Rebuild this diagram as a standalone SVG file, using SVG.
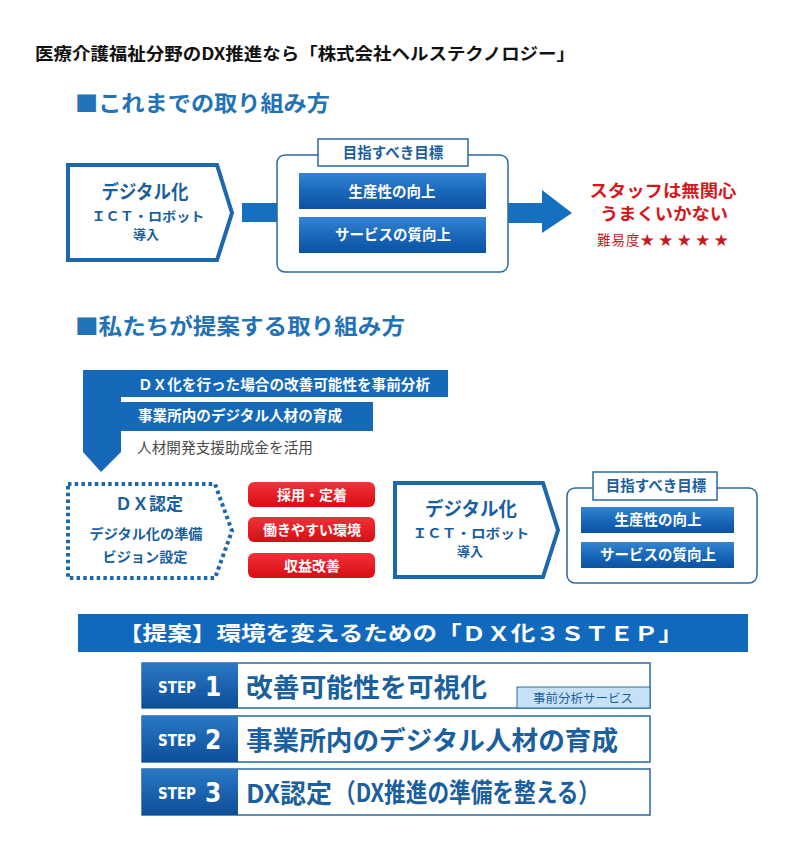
<svg xmlns="http://www.w3.org/2000/svg" width="794" height="863" viewBox="0 0 794 863">
<defs>
<linearGradient id="gBlue" x1="0" y1="0" x2="0" y2="1">
<stop offset="0" stop-color="#3585d2"/><stop offset="0.5" stop-color="#1a68bb"/><stop offset="1" stop-color="#0b52a2"/>
</linearGradient>
<linearGradient id="gRed" x1="0" y1="0" x2="0" y2="1">
<stop offset="0" stop-color="#f0323a"/><stop offset="1" stop-color="#d80c14"/>
</linearGradient>
<linearGradient id="gStep" x1="0" y1="0" x2="0" y2="1">
<stop offset="0" stop-color="#2a78c4"/><stop offset="1" stop-color="#0c4e98"/>
</linearGradient>
<style>
text{font-family:"Noto Sans CJK JP","Noto Sans",sans-serif;}
.b{font-weight:bold;}
.hdr{font-size:22px;font-weight:bold;fill:#2272b8;}
.pt{fill:#1b5f9e;font-weight:bold;text-anchor:middle;}
.w{fill:#fff;font-weight:bold;text-anchor:middle;}
.pent{fill:#fff;stroke:#1c68ab;stroke-width:4;}
.box{fill:#fff;stroke:#2a6aa0;stroke-width:1.5;}
.lbl{fill:#fff;stroke:#2a6aa0;stroke-width:1.5;}
.lt{fill:#1b5f9e;font-weight:bold;text-anchor:middle;font-size:14.5px;}
.red{fill:#d51820;font-weight:bold;text-anchor:middle;font-size:17px;}
.sw{fill:#fff;stroke:#2a6aa0;stroke-width:1.5;}
.st{fill:#1b5f9e;font-weight:bold;font-size:26px;}
.sl{fill:#fff;font-weight:bold;font-family:"Liberation Sans Narrow","DejaVu Sans Condensed","Liberation Sans",sans-serif;}
</style>
</defs>
<rect width="794" height="863" fill="#fff"/>

<g id="title"><text x="35" y="60" font-size="17" class="b" fill="#111" textLength="540" lengthAdjust="spacingAndGlyphs">医療介護福祉分野のDX推進なら「株式会社ヘルステクノロジー」</text></g>

<g id="header1"><text x="75" y="111" class="hdr" textLength="255" lengthAdjust="spacingAndGlyphs">■これまでの取り組み方</text></g>

<g id="connectors">
<rect x="242" y="203" width="36" height="19" fill="#1570c0"/>
<polygon points="508,203 542,203 542,190 572,213 542,233 542,223 508,223" fill="#1570c0"/>
</g>

<g id="digital1">
<polygon class="pent" points="68,165 217,165 232,213 217,260 68,260"/>
<text x="145" y="199" class="pt" font-size="19" textLength="87" lengthAdjust="spacingAndGlyphs">デジタル化</text>
<text x="148" y="221" class="pt" font-size="13" textLength="113" lengthAdjust="spacingAndGlyphs">ＩＣＴ・ロボット</text>
<text x="146" y="239" class="pt" font-size="13">導入</text>
</g>

<g id="goal1">
<rect class="box" x="277" y="155" width="231" height="117" rx="8"/>
<rect class="lbl" x="318" y="139" width="150" height="27"/>
<text x="393" y="158" class="lt">目指すべき目標</text>
<rect x="299" y="173" width="187" height="36" fill="url(#gBlue)"/>
<text x="392" y="197" class="w" font-size="14.5">生産性の向上</text>
<rect x="299" y="217" width="187" height="36" fill="url(#gBlue)"/>
<text x="393" y="240" class="w" font-size="14.5">サービスの質向上</text>
</g>

<g id="result1">
<text x="663" y="197" class="red" textLength="147" lengthAdjust="spacingAndGlyphs">スタッフは無関心</text>
<text x="664" y="220" class="red" textLength="128" lengthAdjust="spacingAndGlyphs">うまくいかない</text>
<text x="597" y="245" font-size="13.5" fill="#c8171e" textLength="131" lengthAdjust="spacing">難易度★ ★ ★ ★ ★</text>
</g>

<g id="header2"><text x="75" y="334" class="hdr" textLength="330" lengthAdjust="spacingAndGlyphs">■私たちが提案する取り組み方</text></g>

<g id="process">
<polygon points="83,370 448,370 448,397 121,397 121,402 373,402 373,431 121,431 121,452 101,472 83,452" fill="#1569b8"/>
<line x1="121" y1="399.5" x2="448" y2="399.5" stroke="#fff" stroke-width="4"/>
<text x="138" y="390" class="b" fill="#fff" font-size="14.5" textLength="292" lengthAdjust="spacingAndGlyphs">ＤＸ化を行った場合の改善可能性を事前分析</text>
<text x="138" y="421" class="b" fill="#fff" font-size="14.5" textLength="204" lengthAdjust="spacingAndGlyphs">事業所内のデジタル人材の育成</text>
<text x="137" y="453" fill="#4a4a4a" font-size="14.5" textLength="176" lengthAdjust="spacingAndGlyphs">人材開発支援助成金を活用</text>
</g>

<g id="dxcert">
<polygon points="68,484 215,484 232,531 215,578 68,578" fill="#fff" stroke="#1c68ab" stroke-width="4" stroke-dasharray="3.5 3.2"/>
<text x="149" y="510" class="pt" font-size="17" textLength="68" lengthAdjust="spacingAndGlyphs">ＤＸ認定</text>
<text x="146" y="539" class="pt" font-size="14" textLength="113" lengthAdjust="spacingAndGlyphs">デジタル化の準備</text>
<text x="145" y="562" class="pt" font-size="14" textLength="85" lengthAdjust="spacingAndGlyphs">ビジョン設定</text>
</g>

<g id="benefits">
<rect x="248" y="482" width="127" height="25" rx="6" fill="url(#gRed)"/>
<text x="312" y="500" class="w" font-size="14">採用・定着</text>
<rect x="248" y="517" width="127" height="25" rx="6" fill="url(#gRed)"/>
<text x="312" y="535" class="w" font-size="14">働きやすい環境</text>
<rect x="248" y="553" width="127" height="25" rx="6" fill="url(#gRed)"/>
<text x="312" y="571" class="w" font-size="14">収益改善</text>
</g>

<g id="digital2">
<polygon class="pent" points="395,483 543,483 558,530 543,577 395,577"/>
<text x="471" y="516" class="pt" font-size="19" textLength="92" lengthAdjust="spacingAndGlyphs">デジタル化</text>
<text x="471" y="538" class="pt" font-size="13" textLength="117" lengthAdjust="spacingAndGlyphs">ＩＣＴ・ロボット</text>
<text x="470" y="556" class="pt" font-size="13">導入</text>
</g>

<g id="goal2">
<rect class="box" x="567" y="488" width="190" height="95" rx="8"/>
<rect class="lbl" x="593" y="472" width="124" height="28"/>
<text x="656" y="491" class="lt">目指すべき目標</text>
<rect x="581" y="507" width="153" height="26" fill="url(#gBlue)"/>
<text x="658" y="525" class="w" font-size="14.5">生産性の向上</text>
<rect x="581" y="542" width="153" height="26" fill="url(#gBlue)"/>
<text x="658" y="560" class="w" font-size="14.5">サービスの質向上</text>
</g>

<g id="banner">
<rect x="78" y="614" width="670" height="38" fill="#1069bd"/>
<text x="118" y="641" class="b" fill="#fff" font-size="20" textLength="565" lengthAdjust="spacingAndGlyphs">【提案】環境を変えるための「ＤＸ化３ＳＴＥＰ」</text>
</g>

<g id="step1">
<rect class="sw" x="142" y="663" width="508" height="45"/>
<rect x="142" y="663" width="96" height="45" fill="url(#gStep)"/>
<text x="158" y="693" class="sl" font-size="15" textLength="38" lengthAdjust="spacingAndGlyphs">STEP</text>
<text x="205" y="696" class="sl" font-size="26">1</text>
<text x="246" y="697" class="st" textLength="241" lengthAdjust="spacingAndGlyphs">改善可能性を可視化</text>
<rect x="517" y="687" width="133" height="21" fill="#c6e1f6" stroke="#2a6aa0" stroke-width="1"/>
<text x="583" y="703" fill="#1b5f9e" font-size="12.5" text-anchor="middle">事前分析サービス</text>
</g>

<g id="step2">
<rect class="sw" x="142" y="716" width="508" height="46"/>
<rect x="142" y="716" width="96" height="46" fill="url(#gStep)"/>
<text x="158" y="746" class="sl" font-size="15" textLength="38" lengthAdjust="spacingAndGlyphs">STEP</text>
<text x="205" y="749" class="sl" font-size="26">2</text>
<text x="246" y="750" class="st" textLength="372" lengthAdjust="spacingAndGlyphs">事業所内のデジタル人材の育成</text>
</g>

<g id="step3">
<rect class="sw" x="142" y="769" width="508" height="46"/>
<rect x="142" y="769" width="96" height="46" fill="url(#gStep)"/>
<text x="158" y="799" class="sl" font-size="15" textLength="38" lengthAdjust="spacingAndGlyphs">STEP</text>
<text x="205" y="802" class="sl" font-size="26">3</text>
<text x="246" y="803" class="st" textLength="86" lengthAdjust="spacingAndGlyphs">DX認定</text>
<text x="334" y="802" class="st" font-size="21" textLength="266" lengthAdjust="spacingAndGlyphs">（DX推進の準備を整える）</text>
</g>
</svg>
